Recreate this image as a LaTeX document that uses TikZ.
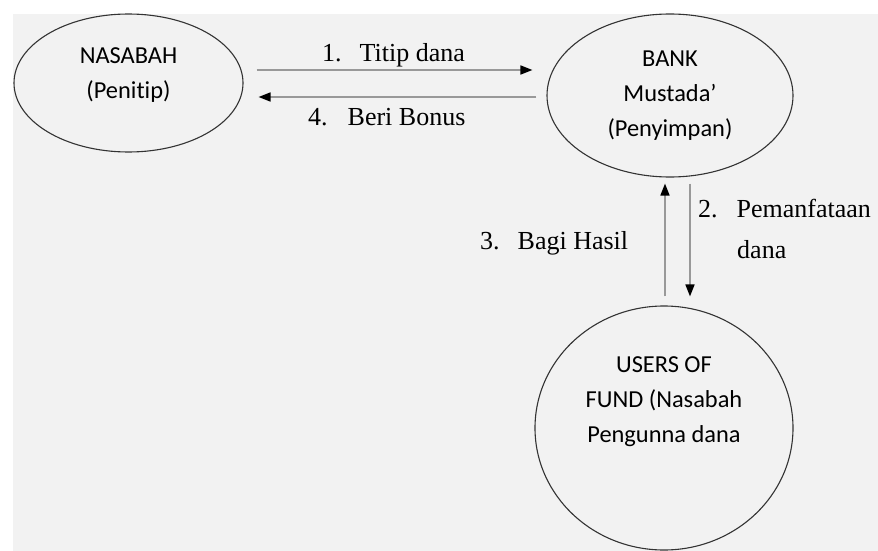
\documentclass[tikz,border=0pt]{standalone}
\usepackage{fontspec}
\setmainfont{Liberation Serif}
\newfontfamily\calfont[Ligatures=NoCommon]{Carlito}
\usepackage{xcolor}
\usetikzlibrary{shapes.geometric,arrows.meta}
\definecolor{paper}{RGB}{242,242,242}
\tikzset{
  party/.style={ellipse, draw=black!80, line width=1.1pt, align=center, text depth=6pt,
    font=\calfont\fontsize{24.4}{35}\selectfont},
  flow/.style={draw=black!40, line width=1.6pt, -{Triangle[black,length=12pt,width=9pt]}},
  lbl/.style={anchor=base west, inner sep=0pt, align=left, font=\fontsize{26}{41}\selectfont}
}

\begin{document}
\begin{tikzpicture}[x=1pt,y=-1pt]
\useasboundingbox (0,0) rectangle (878,551);
\fill[paper] (13,14) rectangle (878,551);

\node[party, minimum width=229pt, minimum height=138pt, text height=36pt] (nasabah) at (128.5,83) {NASABAH\\(Penitip)};
\node[party, minimum width=246pt, minimum height=163pt, text height=88pt] (bank) at (670,95.5) {BANK\\Mustada’\\(Penyimpan)};
\node[party, minimum width=258pt, minimum height=244pt, text height=34pt] (users) at (664,428) {USERS OF\\FUND (Nasabah\\Pengunna dana};

\draw[flow] ([xshift=13pt,yshift=13pt]nasabah.east) -- ([xshift=-14pt,yshift=25.5pt]bank.west);
\draw[flow] ([xshift=-10pt,yshift=-1.5pt]bank.west) -- ([xshift=15pt,yshift=-14pt]nasabah.east);
\draw[flow] ([xshift=20pt,yshift=-6pt]bank.south) -- ([xshift=26pt,yshift=9pt]users.north);
\draw[flow] ([xshift=1pt,yshift=9pt]users.north) -- ([xshift=-5pt,yshift=-6pt]bank.south);

\node[lbl] (titip) at (322,62) {1.\hspace{18pt}Titip dana};
\node[lbl] (bonus) at (308,125) {4.\hspace{20pt}Beri Bonus};
\node[lbl] (manfaat) at (698,258) {2.\hspace{19pt}Pemanfataan\\\hspace*{39pt}dana};
\node[lbl] (hasil) at (480,249) {3.\hspace{18pt}Bagi Hasil};

\end{tikzpicture}
\end{document}
